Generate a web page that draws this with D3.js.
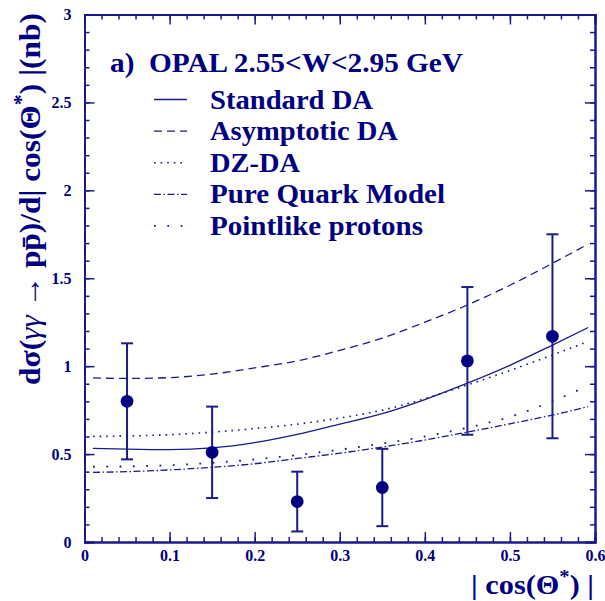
<!DOCTYPE html>
<html><head><meta charset="utf-8">
<script src="https://cdn.jsdelivr.net/npm/d3@7"></script>
<style>body{margin:0;background:#fff}svg{display:block}</style>
</head><body>
<script>
// ---- data ----
const dataX = [0.05, 0.15, 0.25, 0.35, 0.45, 0.55];
const dataY = [0.80, 0.51, 0.23, 0.31, 1.03, 1.17];
const errLo = [0.47, 0.25, 0.06, 0.09, 0.61, 0.59];
const errHi = [1.13, 0.77, 0.40, 0.53, 1.45, 1.75];

const curveX      = [0.01, 0.05, 0.10, 0.15, 0.20, 0.25, 0.30, 0.35, 0.40, 0.45, 0.50, 0.55, 0.592];
const standardDA  = [0.533,0.528,0.525,0.535,0.565,0.612,0.670,0.730,0.810,0.903,1.005,1.120,1.220];
const asymptotic  = [0.933,0.930,0.935,0.955,0.990,1.030,1.090,1.160,1.250,1.348,1.460,1.585,1.695];
const dzDA        = [0.600,0.603,0.610,0.625,0.645,0.670,0.705,0.750,0.815,0.893,0.975,1.064,1.140];
const pureQuark   = [0.396,0.400,0.410,0.425,0.445,0.475,0.505,0.540,0.580,0.625,0.672,0.722,0.770];
const pointlike   = [0.428,0.430,0.437,0.450,0.470,0.495,0.525,0.560,0.600,0.650,0.712,0.800,0.890];

const legendLabels = ["Standard DA","Asymptotic DA","DZ-DA","Pure Quark Model","Pointlike protons"];
const xTicks = [0, 0.1, 0.2, 0.3, 0.4, 0.5, 0.6];
const yTicks = [0, 0.5, 1, 1.5, 2, 2.5, 3];

// ---- setup ----
const W = 605, H = 601;
const navy = "#000080", lineC = "#1a1a8a";
const font = "'Liberation Serif','Times New Roman',serif";
const svg = d3.select("body").append("svg").attr("width", W).attr("height", H);
const x = d3.scaleLinear().domain([0, 0.6]).range([84.5, 595]);
const y = d3.scaleLinear().domain([0, 3]).range([542, 14.5]);

function styleAxis(g){
  g.attr("font-size", 16).attr("font-family", font);
  g.select(".domain").attr("stroke", lineC).attr("stroke-width", 2);
  g.selectAll(".tick line").attr("stroke", lineC).attr("stroke-width", 1.5);
  g.selectAll(".tick text").attr("fill", navy).attr("font-family", font)
    .attr("font-weight", "bold").attr("font-size", 16);
}
const fmt = d => d === 0 ? "0" : d3.format("")(d);
const xMinor = d3.range(0, 0.6001, 0.02);
const yMinor = d3.range(0, 3.0001, 0.1);

svg.append("g").attr("transform", "translate(0,542)")
  .call(d3.axisBottom(x).tickValues(xMinor).tickSize(-5).tickFormat("")).call(styleAxis);
svg.append("g").attr("transform", "translate(0,542)")
  .call(d3.axisBottom(x).tickValues(xTicks).tickSize(-10).tickPadding(8).tickFormat(fmt)).call(styleAxis);
svg.append("g").attr("transform", "translate(0,14.5)")
  .call(d3.axisTop(x).tickValues(xMinor).tickSize(-5).tickFormat("")).call(styleAxis);
svg.append("g").attr("transform", "translate(0,14.5)")
  .call(d3.axisTop(x).tickValues(xTicks).tickSize(-10).tickFormat("")).call(styleAxis);
svg.append("g").attr("transform", "translate(84.5,0)")
  .call(d3.axisLeft(y).tickValues(yMinor).tickSize(-5).tickFormat("")).call(styleAxis);
svg.append("g").attr("transform", "translate(84.5,0)")
  .call(d3.axisLeft(y).tickValues(yTicks).tickSize(-10).tickPadding(13).tickFormat(fmt)).call(styleAxis);
svg.append("g").attr("transform", "translate(595,0)")
  .call(d3.axisRight(y).tickValues(yMinor).tickSize(-5).tickFormat("")).call(styleAxis);
svg.append("g").attr("transform", "translate(595,0)")
  .call(d3.axisRight(y).tickValues(yTicks).tickSize(-10).tickFormat("")).call(styleAxis);

// curves
const styles = [
  {d: standardDA, dash: null, w: 1.3},
  {d: asymptotic, dash: "8,5", w: 1.3},
  {d: dzDA, dash: "1.6,5", w: 1.6},
  {d: pureQuark, dash: "7,2.5,1.5,2.5", w: 1.3},
  {d: pointlike, dash: "1.8,11.5", w: 1.8}
];
const line = d3.line().x(d => x(d[0])).y(d => y(d[1])).curve(d3.curveMonotoneX);
styles.forEach(s => {
  svg.append("path").attr("d", line(curveX.map((cx, i) => [cx, s.d[i]])))
    .attr("fill", "none").attr("stroke", lineC).attr("stroke-width", s.w)
    .attr("stroke-dasharray", s.dash);
});

// error bars & points
const pts = dataX.map((cx, i) => ({x: cx, y: dataY[i], lo: errLo[i], hi: errHi[i]}));
const eb = svg.append("g").attr("stroke", lineC).attr("stroke-width", 2);
pts.forEach(p => {
  eb.append("line").attr("x1", x(p.x)).attr("x2", x(p.x)).attr("y1", y(p.lo)).attr("y2", y(p.hi));
  eb.append("line").attr("x1", x(p.x) - 6).attr("x2", x(p.x) + 6).attr("y1", y(p.lo)).attr("y2", y(p.lo));
  eb.append("line").attr("x1", x(p.x) - 6).attr("x2", x(p.x) + 6).attr("y1", y(p.hi)).attr("y2", y(p.hi));
});
svg.append("g").selectAll("circle").data(pts).join("circle")
  .attr("cx", d => x(d.x)).attr("cy", d => y(d.y)).attr("r", 6.4).attr("fill", navy);

// legend
const tx = (sel) => sel.attr("fill", navy).attr("font-family", font).attr("font-weight", "bold");
svg.append("text").attr("x", 110).attr("y", 72).attr("font-size", 27)
  .attr("textLength", 353).attr("lengthAdjust", "spacingAndGlyphs")
  .attr("xml:space", "preserve").call(tx).text("a)  OPAL 2.55<W<2.95 GeV");
const legW = [163, 188, 90, 235, 213];
legendLabels.forEach((lab, i) => {
  const by = 108.5 + i * 31.6;
  svg.append("text").attr("x", 210).attr("y", by).attr("font-size", 27)
    .attr("textLength", legW[i]).attr("lengthAdjust", "spacingAndGlyphs")
    .call(tx).text(lab);
  const s = styles[i];
  svg.append("line").attr("x1", 154).attr("x2", 187).attr("y1", by - 9).attr("y2", by - 9)
    .attr("stroke", lineC).attr("stroke-width", s.w).attr("stroke-dasharray", s.dash);
});

function fitText(textSel, target){
  const len = textSel.node().getComputedTextLength();
  return target / len;
}

// y-axis title
const ytG = svg.append("g");
const yt = ytG.append("text").attr("text-anchor", "middle").attr("font-size", 30).call(tx);
yt.append("tspan").text("dσ(");
yt.append("tspan").attr("font-weight", "normal").attr("font-style", "italic").text("γγ");
yt.append("tspan").attr("font-weight", "normal").text(" → ");
yt.append("tspan").text("pp\u0304)/d| cos(Θ");
yt.append("tspan").attr("dy", -12).attr("font-size", 21).text("*");
yt.append("tspan").attr("dy", 12).text(") |(nb)");
const syt = fitText(yt, 372);
ytG.attr("transform", `translate(40,199) rotate(-90) scale(${syt},1)`);

// x-axis title
const xtG = svg.append("g");
const xt = xtG.append("text").attr("text-anchor", "end").attr("font-size", 28).call(tx)
  .attr("xml:space", "preserve");
xt.append("tspan").text("| cos(Θ");
xt.append("tspan").attr("dy", -11).attr("font-size", 19).text("*");
xt.append("tspan").attr("dy", 11).text(") |");
const sxt = fitText(xt, 123);
xtG.attr("transform", `translate(594,594) scale(${sxt},1)`);
</script>
</body></html>
